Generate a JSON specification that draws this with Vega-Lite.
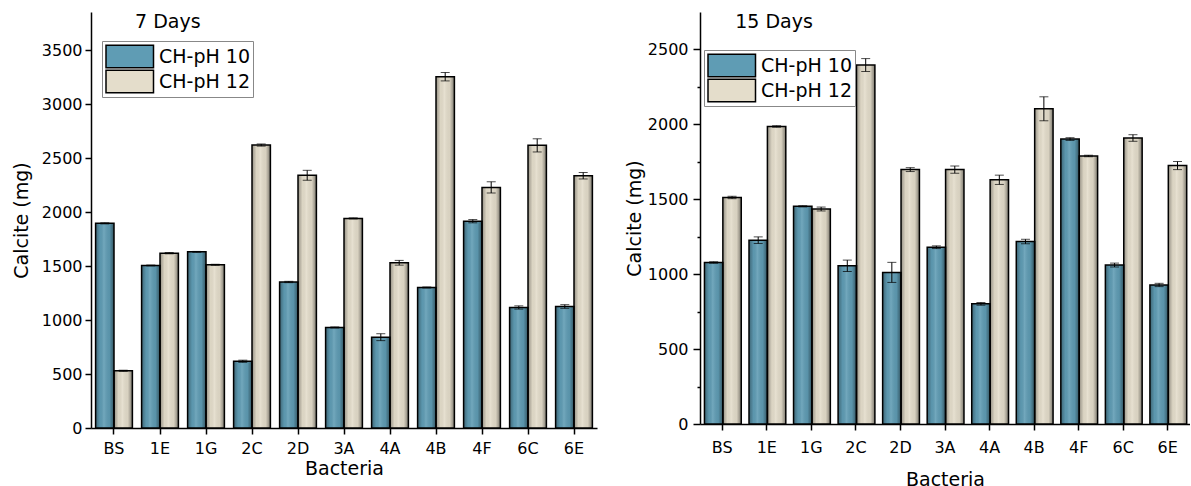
{
  "$schema": "https://vega.github.io/schema/vega-lite/v6.json",
  "padding": {"left": 12, "top": 12, "right": 0, "bottom": 0},
  "background": "white",
  "spacing": 28,
  "config": {
    "font": "DejaVu Sans",
    "view": {"stroke": null},
    "axis": {
      "domainColor": "black", "domainWidth": 1.5,
      "tickColor": "black", "tickWidth": 1.5, "tickSize": 6,
      "labelFont": "DejaVu Sans", "labelFontSize": 16, "labelColor": "black",
      "titleFont": "DejaVu Sans", "titleFontSize": 19, "titleFontWeight": "normal", "titleColor": "black",
      "grid": false
    },
    "legend": {
      "labelFont": "DejaVu Sans", "labelFontSize": 19, "labelColor": "black"
    }
  },
  "datasets": {
    "calcite": [
      {"day": "7 Days", "bacteria": "BS", "series": "CH-pH 10", "value": 1895, "err": 5},
      {"day": "7 Days", "bacteria": "BS", "series": "CH-pH 12", "value": 530, "err": 5},
      {"day": "7 Days", "bacteria": "1E", "series": "CH-pH 10", "value": 1505, "err": 4},
      {"day": "7 Days", "bacteria": "1E", "series": "CH-pH 12", "value": 1619, "err": 6},
      {"day": "7 Days", "bacteria": "1G", "series": "CH-pH 10", "value": 1631, "err": 4},
      {"day": "7 Days", "bacteria": "1G", "series": "CH-pH 12", "value": 1511, "err": 5},
      {"day": "7 Days", "bacteria": "2C", "series": "CH-pH 10", "value": 618, "err": 10},
      {"day": "7 Days", "bacteria": "2C", "series": "CH-pH 12", "value": 2620, "err": 10},
      {"day": "7 Days", "bacteria": "2D", "series": "CH-pH 10", "value": 1352, "err": 6},
      {"day": "7 Days", "bacteria": "2D", "series": "CH-pH 12", "value": 2340, "err": 46},
      {"day": "7 Days", "bacteria": "3A", "series": "CH-pH 10", "value": 931, "err": 5},
      {"day": "7 Days", "bacteria": "3A", "series": "CH-pH 12", "value": 1941, "err": 5},
      {"day": "7 Days", "bacteria": "4A", "series": "CH-pH 10", "value": 841, "err": 32},
      {"day": "7 Days", "bacteria": "4A", "series": "CH-pH 12", "value": 1530, "err": 22},
      {"day": "7 Days", "bacteria": "4B", "series": "CH-pH 10", "value": 1301, "err": 5},
      {"day": "7 Days", "bacteria": "4B", "series": "CH-pH 12", "value": 3253, "err": 39},
      {"day": "7 Days", "bacteria": "4F", "series": "CH-pH 10", "value": 1915, "err": 15},
      {"day": "7 Days", "bacteria": "4F", "series": "CH-pH 12", "value": 2228, "err": 52},
      {"day": "7 Days", "bacteria": "6C", "series": "CH-pH 10", "value": 1116, "err": 15},
      {"day": "7 Days", "bacteria": "6C", "series": "CH-pH 12", "value": 2617, "err": 61},
      {"day": "7 Days", "bacteria": "6E", "series": "CH-pH 10", "value": 1125, "err": 17},
      {"day": "7 Days", "bacteria": "6E", "series": "CH-pH 12", "value": 2336, "err": 30},
      {"day": "15 Days", "bacteria": "BS", "series": "CH-pH 10", "value": 1078, "err": 5},
      {"day": "15 Days", "bacteria": "BS", "series": "CH-pH 12", "value": 1512, "err": 8},
      {"day": "15 Days", "bacteria": "1E", "series": "CH-pH 10", "value": 1227, "err": 22},
      {"day": "15 Days", "bacteria": "1E", "series": "CH-pH 12", "value": 1986, "err": 5},
      {"day": "15 Days", "bacteria": "1G", "series": "CH-pH 10", "value": 1453, "err": 4},
      {"day": "15 Days", "bacteria": "1G", "series": "CH-pH 12", "value": 1435, "err": 13},
      {"day": "15 Days", "bacteria": "2C", "series": "CH-pH 10", "value": 1056, "err": 38},
      {"day": "15 Days", "bacteria": "2C", "series": "CH-pH 12", "value": 2396, "err": 43},
      {"day": "15 Days", "bacteria": "2D", "series": "CH-pH 10", "value": 1012, "err": 67},
      {"day": "15 Days", "bacteria": "2D", "series": "CH-pH 12", "value": 1698, "err": 13},
      {"day": "15 Days", "bacteria": "3A", "series": "CH-pH 10", "value": 1180, "err": 9},
      {"day": "15 Days", "bacteria": "3A", "series": "CH-pH 12", "value": 1698, "err": 24},
      {"day": "15 Days", "bacteria": "4A", "series": "CH-pH 10", "value": 802, "err": 9},
      {"day": "15 Days", "bacteria": "4A", "series": "CH-pH 12", "value": 1630, "err": 31},
      {"day": "15 Days", "bacteria": "4B", "series": "CH-pH 10", "value": 1218, "err": 15},
      {"day": "15 Days", "bacteria": "4B", "series": "CH-pH 12", "value": 2104, "err": 80},
      {"day": "15 Days", "bacteria": "4F", "series": "CH-pH 10", "value": 1902, "err": 9},
      {"day": "15 Days", "bacteria": "4F", "series": "CH-pH 12", "value": 1789, "err": 5},
      {"day": "15 Days", "bacteria": "6C", "series": "CH-pH 10", "value": 1061, "err": 13},
      {"day": "15 Days", "bacteria": "6C", "series": "CH-pH 12", "value": 1909, "err": 22},
      {"day": "15 Days", "bacteria": "6E", "series": "CH-pH 10", "value": 928, "err": 11},
      {"day": "15 Days", "bacteria": "6E", "series": "CH-pH 12", "value": 1725, "err": 27}
    ],
    "panelLabel7": [{"label": "7 Days"}],
    "panelLabel15": [{"label": "15 Days"}]
  },
  "resolve": {"scale": {"fill": "independent"}, "legend": {"fill": "independent"}},
  "hconcat": [
    {
      "vconcat": [
        {
          "width": 506,
          "height": 416,
          "layer": [
            {
              "data": {"name": "calcite"},
              "transform": [{"filter": "datum.day === '7 Days'"}],
              "mark": {"type": "bar"},
              "encoding": {
                "x": {"field": "bacteria", "type": "nominal",
                  "scale": {"domain": ["BS", "1E", "1G", "2C", "2D", "3A", "4A", "4B", "4F", "6C", "6E"], "paddingInner": 0.2, "paddingOuter": 0.1},
                  "axis": {"title": "Bacteria", "labelAngle": 0, "labelPadding": 6, "titlePadding": 3}},
                "xOffset": {"field": "series", "type": "nominal", "scale": {"domain": ["CH-pH 10", "CH-pH 12"]}},
                "y": {"field": "value", "type": "quantitative",
                  "scale": {"domain": [0, 3852], "nice": false},
                  "axis": {"title": "Calcite (mg)", "values": [0, 250, 500, 750, 1000, 1250, 1500, 1750, 2000, 2250, 2500, 2750, 3000, 3250, 3500],
                    "labelExpr": "datum.value % 500 === 0 ? datum.value : ''",
                    "tickSize": {"condition": {"test": "datum.value % 500 === 0", "value": 6}, "value": 3},
                    "labelPadding": 3, "titlePadding": 10}},
                "fill": {"field": "series", "type": "nominal",
                  "scale": {"domain": ["CH-pH 10", "CH-pH 12"], "range": ["#5f9cb4", "#e4ddcb"]},
                  "legend": {"orient": "none", "legendX": 11, "legendY": 29, "title": null,
                    "symbolType": "M-1,-1.125H3.75V1.125H-1Z", "symbolSize": 400,
                    "symbolStrokeColor": "black", "symbolStrokeWidth": 1.5, "symbolOpacity": 1,
                    "clipHeight": 25,
                    "labelOffset": 32, "strokeColor": "#888888", "fillColor": "white", "padding": 3, "rowPadding": 0}}
              }
            },
            {
              "data": {"name": "calcite"},
              "transform": [{"filter": "datum.day === '7 Days'"}],
              "mark": {"type": "bar", "stroke": "black", "strokeWidth": 1.5,
                "fill": {"gradient": "linear", "x1": 0, "y1": 0, "x2": 1, "y2": 0, "stops": [
                  {"offset": 0, "color": "rgba(0,0,0,0.35)"}, {"offset": 0.25, "color": "rgba(0,0,0,0.03)"},
                  {"offset": 0.45, "color": "rgba(255,255,255,0.12)"}, {"offset": 0.75, "color": "rgba(0,0,0,0.05)"},
                  {"offset": 1, "color": "rgba(0,0,0,0.45)"}]}},
              "encoding": {
                "x": {"field": "bacteria", "type": "nominal", "title": "Bacteria"},
                "xOffset": {"field": "series", "type": "nominal"},
                "y": {"field": "value", "type": "quantitative", "title": "Calcite (mg)"}
              }
            },
            {
              "data": {"name": "calcite"},
              "transform": [{"filter": "datum.day === '7 Days'"}],
              "mark": {"type": "errorbar", "ticks": {"size": 9, "color": "black", "thickness": 1}, "rule": {"color": "black", "strokeWidth": 1}},
              "encoding": {
                "x": {"field": "bacteria", "type": "nominal", "title": "Bacteria"},
                "xOffset": {"field": "series", "type": "nominal"},
                "y": {"field": "value", "type": "quantitative", "title": "Calcite (mg)"},
                "yError": {"field": "err"}
              }
            },
            {
              "data": {"name": "panelLabel7"},
              "mark": {"type": "text", "align": "left", "baseline": "alphabetic", "dx": 21, "fontSize": 19, "font": "DejaVu Sans", "color": "black"},
              "encoding": {
                "x": {"datum": "BS", "type": "nominal", "title": "Bacteria"},
                "y": {"datum": 3704, "type": "quantitative", "title": "Calcite (mg)"},
                "text": {"field": "label"}
              }
            }
          ]
        }
      ]
    },
    {
      "vconcat": [
        {
          "width": 490,
          "height": 412,
          "layer": [
            {
              "data": {"name": "calcite"},
              "transform": [{"filter": "datum.day === '15 Days'"}],
              "mark": {"type": "bar"},
              "encoding": {
                "x": {"field": "bacteria", "type": "nominal",
                  "scale": {"domain": ["BS", "1E", "1G", "2C", "2D", "3A", "4A", "4B", "4F", "6C", "6E"], "paddingInner": 0.2, "paddingOuter": 0.1},
                  "axis": {"title": "Bacteria", "labelAngle": 0, "labelPadding": 9, "titlePadding": 15}},
                "xOffset": {"field": "series", "type": "nominal", "scale": {"domain": ["CH-pH 10", "CH-pH 12"]}},
                "y": {"field": "value", "type": "quantitative",
                  "scale": {"domain": [0, 2750], "nice": false},
                  "axis": {"title": "Calcite (mg)", "values": [0, 250, 500, 750, 1000, 1250, 1500, 1750, 2000, 2250, 2500],
                    "labelExpr": "datum.value % 500 === 0 ? datum.value : ''",
                    "tickSize": {"condition": {"test": "datum.value % 500 === 0", "value": 7}, "value": 3},
                    "labelPadding": 5, "titlePadding": 3}},
                "fill": {"field": "series", "type": "nominal",
                  "scale": {"domain": ["CH-pH 10", "CH-pH 12"], "range": ["#5f9cb4", "#e4ddcb"]},
                  "legend": {"orient": "none", "legendX": 4, "legendY": 38, "title": null,
                    "symbolType": "M-1,-1.125H3.75V1.125H-1Z", "symbolSize": 400,
                    "symbolStrokeColor": "black", "symbolStrokeWidth": 1.5, "symbolOpacity": 1,
                    "clipHeight": 25,
                    "labelOffset": 32, "strokeColor": "#888888", "fillColor": "white", "padding": 3, "rowPadding": 0}}
              }
            },
            {
              "data": {"name": "calcite"},
              "transform": [{"filter": "datum.day === '15 Days'"}],
              "mark": {"type": "bar", "stroke": "black", "strokeWidth": 1.5,
                "fill": {"gradient": "linear", "x1": 0, "y1": 0, "x2": 1, "y2": 0, "stops": [
                  {"offset": 0, "color": "rgba(0,0,0,0.35)"}, {"offset": 0.25, "color": "rgba(0,0,0,0.03)"},
                  {"offset": 0.45, "color": "rgba(255,255,255,0.12)"}, {"offset": 0.75, "color": "rgba(0,0,0,0.05)"},
                  {"offset": 1, "color": "rgba(0,0,0,0.45)"}]}},
              "encoding": {
                "x": {"field": "bacteria", "type": "nominal", "title": "Bacteria"},
                "xOffset": {"field": "series", "type": "nominal"},
                "y": {"field": "value", "type": "quantitative", "title": "Calcite (mg)"}
              }
            },
            {
              "data": {"name": "calcite"},
              "transform": [{"filter": "datum.day === '15 Days'"}],
              "mark": {"type": "errorbar", "ticks": {"size": 9, "color": "black", "thickness": 1}, "rule": {"color": "black", "strokeWidth": 1}},
              "encoding": {
                "x": {"field": "bacteria", "type": "nominal", "title": "Bacteria"},
                "xOffset": {"field": "series", "type": "nominal"},
                "y": {"field": "value", "type": "quantitative", "title": "Calcite (mg)"},
                "yError": {"field": "err"}
              }
            },
            {
              "data": {"name": "panelLabel15"},
              "mark": {"type": "text", "align": "left", "baseline": "alphabetic", "dx": 13, "fontSize": 19, "font": "DejaVu Sans", "color": "black"},
              "encoding": {
                "x": {"datum": "BS", "type": "nominal", "title": "Bacteria"},
                "y": {"datum": 2643, "type": "quantitative", "title": "Calcite (mg)"},
                "text": {"field": "label"}
              }
            }
          ]
        }
      ]
    }
  ]
}
